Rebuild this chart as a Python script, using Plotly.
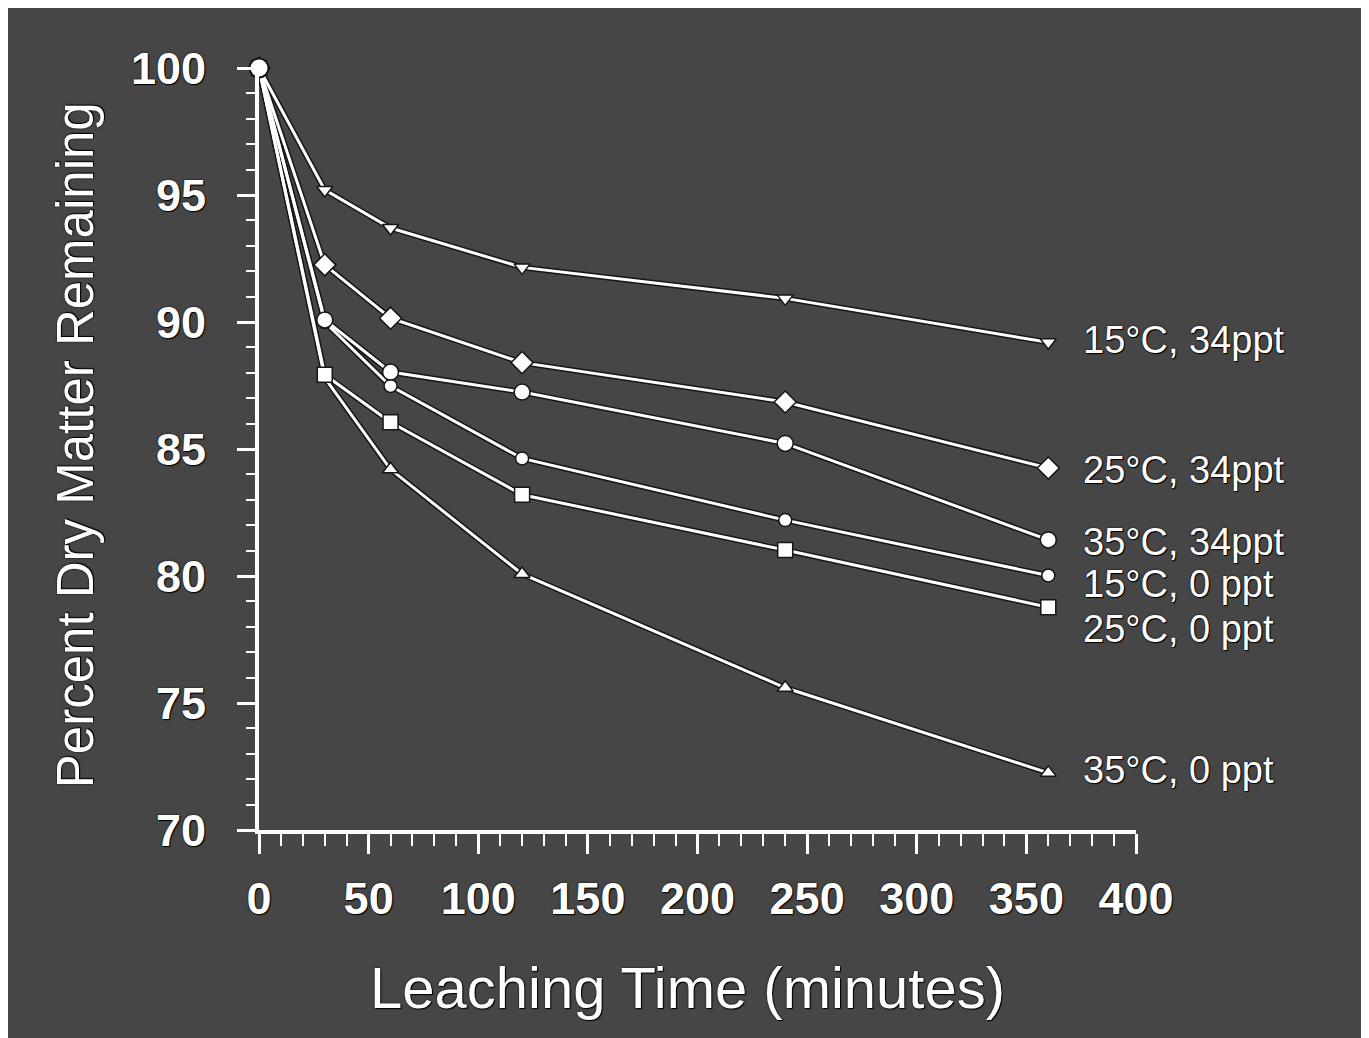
import plotly.graph_objects as go

time_min = [0, 30, 60, 120, 240, 360]

series_names = ["15°C, 34ppt", "25°C, 34ppt", "35°C, 34ppt",
                "15°C, 0 ppt", "25°C, 0 ppt", "35°C, 0 ppt"]
s15_34 = [100, 95.2, 93.7, 92.15, 90.93, 89.2]
s25_34 = [100, 92.25, 90.15, 88.4, 86.85, 84.25]
s35_34 = [100, 90.08, 88.03, 87.24, 85.22, 81.42]
s15_0 = [100, 90.0, 87.48, 84.63, 82.2, 80.02]
s25_0 = [100, 87.92, 86.05, 83.2, 81.02, 78.77]
s35_0 = [100, 87.8, 84.2, 80.08, 75.6, 72.25]
series_values = [s15_34, s25_34, s35_34, s15_0, s25_0, s35_0]

label_y = [89.3, 84.17, 81.35, 79.68, 77.92, 72.36]
x_ticks = [0, 50, 100, 150, 200, 250, 300, 350, 400]
y_ticks = [70, 75, 80, 85, 90, 95, 100]

symbols = ["triangle-down", "diamond", "circle", "circle", "square", "triangle-up"]
sizes = [14, 17, 16, 13, 15, 14]

BG = "#464646"
DARK = "#161616"
FONT = "Liberation Sans, Arial, sans-serif"
SHADOW = "0px 0px 2px #000, 1px 1px 1px #000"

fig = go.Figure()

# dark halo under lines
for vals in series_values:
    fig.add_trace(go.Scatter(x=time_min, y=vals, mode="lines",
                             line=dict(color=DARK, width=6),
                             hoverinfo="skip", showlegend=False, cliponaxis=False))

order = [5, 4, 3, 0, 1, 2]
for i in order:
    fig.add_trace(go.Scatter(
        x=time_min, y=series_values[i], mode="lines+markers", name=series_names[i],
        line=dict(color="white", width=3),
        marker=dict(symbol=symbols[i], size=sizes[i], color="white",
                    line=dict(color=DARK, width=1.5)),
        showlegend=False, cliponaxis=False))

# the common starting point
fig.add_trace(go.Scatter(x=[time_min[0]], y=[s35_34[0]], mode="markers",
                         marker=dict(symbol="circle", size=19, color="white",
                                     line=dict(color=DARK, width=2)),
                         showlegend=False, cliponaxis=False))

annotations = []
for name, ly in zip(series_names, label_y):
    annotations.append(dict(x=375.5, y=ly, xref="x", yref="y", text=name,
                            showarrow=False, xanchor="left", yanchor="middle",
                            borderpad=0,
                            font=dict(family=FONT, size=38, color="white", shadow=SHADOW)))

annotations.append(dict(x=-0.2098, y=0.505, xref="paper", yref="paper",
                        text="Percent Dry Matter Remaining", textangle=-90,
                        showarrow=False, xanchor="center", yanchor="middle",
                        font=dict(family=FONT, size=51, color="white", shadow=SHADOW)))
annotations.append(dict(x=0.489, y=-0.2073, xref="paper", yref="paper",
                        text="Leaching Time (minutes)",
                        showarrow=False, xanchor="center", yanchor="middle",
                        font=dict(family=FONT, size=58, color="white", shadow=SHADOW)))

fig.update_layout(
    width=1369, height=1038,
    margin=dict(l=251, r=241, t=60, b=216),
    paper_bgcolor=BG, plot_bgcolor=BG,
    annotations=annotations,
)

fig.update_xaxes(range=[0, 400], tickvals=x_ticks, ticktext=[str(v) for v in x_ticks],
                 showgrid=False, zeroline=False,
                 showline=True, linecolor="white", linewidth=4,
                 ticks="outside", ticklen=20, tickwidth=3, tickcolor="white",
                 minor=dict(ticks="outside", dtick=10, ticklen=12, tickwidth=2, tickcolor="white"),
                 ticklabelstandoff=6,
                 tickfont=dict(family=FONT, size=45, color="white", weight="bold", shadow=SHADOW))
fig.update_yaxes(range=[70, 100], tickvals=y_ticks, ticktext=[str(v) for v in y_ticks],
                 showgrid=False, zeroline=False,
                 showline=True, linecolor="white", linewidth=4,
                 ticks="outside", ticklen=18, tickwidth=3, tickcolor="white",
                 minor=dict(ticks="outside", dtick=1, ticklen=9, tickwidth=2, tickcolor="white"),
                 ticklabelstandoff=22,
                 tickfont=dict(family=FONT, size=45, color="white", weight="bold", shadow=SHADOW))

fig.write_html("out.html")
